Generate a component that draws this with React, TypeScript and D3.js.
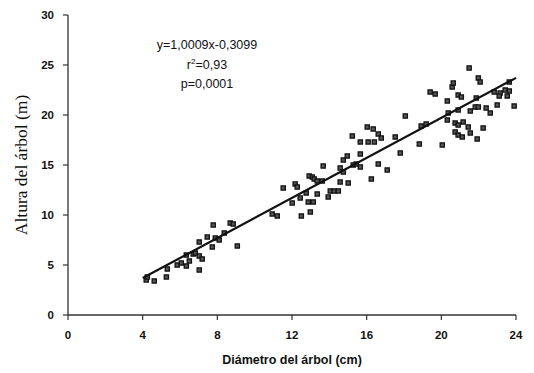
import React from "react";
import * as d3 from "d3";

// diameter (cm) of each tree
const diametro = [
  4.19, 4.25, 4.62, 5.27, 5.32, 5.85, 6.07, 6.34, 6.5, 6.34, 6.71, 6.82, 7.03,
  7.19, 7.03, 7.03, 7.46, 7.73, 7.78, 7.89, 8.1, 8.37, 8.69, 8.85, 9.07, 10.94,
  11.21, 11.53, 12.17, 12.28, 12.5, 12.01, 12.44, 12.76, 12.87, 13.14, 12.98,
  13.35, 12.92, 13.09, 13.19, 13.35, 13.62, 13.67, 14.05, 14.26, 14.48, 13.94,
  14.58, 14.75, 14.75, 14.96, 15.28, 15.44, 15.66, 14.58, 15.01, 15.23, 15.66,
  16.08, 16.41, 15.66, 16.03, 16.35, 16.62, 16.78, 16.62, 17.1, 16.25, 17.53,
  17.8, 18.07, 18.82, 18.92, 19.19, 19.4, 19.67, 20.05, 20.32, 20.37, 20.32,
  20.58, 20.64, 20.9, 21.07, 20.9, 20.74, 20.9, 21.17, 21.44, 20.74, 20.9,
  21.12, 21.55, 21.92, 22.24, 21.49, 21.98, 22.08, 21.87, 21.55, 21.82, 21.98,
  22.4, 22.62, 22.99, 22.83, 23.15, 23.42, 23.64, 23.1, 23.53, 23.64, 23.9,
];

// height (m) of each tree
const altura = [
  3.5, 3.8, 3.4, 3.8, 4.6, 5.0, 5.2, 4.9, 5.4, 6.0, 6.1, 6.2, 5.9, 5.6, 4.5,
  7.3, 7.8, 6.8, 9.0, 7.7, 7.5, 8.2, 9.2, 9.1, 6.9, 10.1, 9.9, 12.7, 13.1, 12.8,
  9.9, 11.2, 11.7, 12.2, 11.3, 11.3, 10.3, 12.1, 13.9, 13.8, 13.6, 13.4, 13.4,
  14.9, 12.4, 12.4, 12.4, 11.8, 14.7, 14.3, 15.5, 15.9, 15.0, 15.1, 14.8, 13.3,
  13.2, 17.9, 17.3, 17.3, 17.3, 16.1, 18.8, 18.6, 18.1, 17.7, 15.1, 14.5, 13.6,
  17.8, 16.2, 19.9, 17.1, 18.9, 19.1, 22.3, 22.1, 17.0, 21.4, 20.2, 19.5, 22.8,
  23.2, 22.0, 21.8, 20.5, 19.2, 19.0, 19.3, 18.8, 18.3, 18.0, 17.8, 18.2, 17.6,
  18.7, 24.7, 23.7, 23.3, 21.7, 20.4, 20.8, 20.8, 20.7, 20.2, 21.0, 22.3, 22.2,
  22.5, 22.4, 21.9, 21.9, 23.3, 20.9,
];

const xTicks = [0, 4, 8, 12, 16, 20, 24];
const yTicks = [0, 5, 10, 15, 20, 25, 30];
const pendiente = 1.0009;
const intercepto = -0.3099;
const ecuacion = ["y=1,0009x-0,3099", "r", "p=0,0001"];

const W = 534;
const H = 373;
const margin = { top: 15, right: 18, bottom: 58, left: 68 };
const sans = "'Liberation Sans', Arial, Helvetica, sans-serif";

export default function App() {
  const x = d3
    .scaleLinear()
    .domain([0, 24])
    .range([margin.left, W - margin.right]);
  const y = d3
    .scaleLinear()
    .domain([0, 30])
    .range([H - margin.bottom, margin.top]);

  const puntos = diametro.map((d, i) => ({ d, h: altura[i] }));
  const linea = d3.line<number>()
    .x((v) => x(v))
    .y((v) => y(pendiente * v + intercepto));

  const axisColor = "#333";
  const textColor = "#111";
  const s = 4.2;

  return (
    <svg
      width={W}
      height={H}
      style={{ position: "absolute", left: 0, top: 0, background: "#fff" }}
    >
      {/* y axis */}
      <line
        x1={x(0)}
        x2={x(0)}
        y1={y(30)}
        y2={y(0)}
        stroke={axisColor}
        strokeWidth={1.3}
      />
      {yTicks.map((t) => (
        <g key={"y" + t}>
          <line
            x1={x(0) - 5}
            x2={x(0)}
            y1={y(t)}
            y2={y(t)}
            stroke={axisColor}
            strokeWidth={1.2}
          />
          <text
            x={x(0) - 14}
            y={y(t)}
            dy="0.36em"
            textAnchor="end"
            fontFamily={sans}
            fontWeight="bold"
            fontSize={11.5}
            fill={textColor}
          >
            {t}
          </text>
        </g>
      ))}

      {/* x axis */}
      <line
        x1={x(0)}
        x2={x(24)}
        y1={y(0)}
        y2={y(0)}
        stroke={axisColor}
        strokeWidth={1.3}
      />
      {xTicks.map((t) => (
        <g key={"x" + t}>
          <line
            x1={x(t)}
            x2={x(t)}
            y1={y(0)}
            y2={y(0) + 5}
            stroke={axisColor}
            strokeWidth={1.2}
          />
          <text
            x={x(t)}
            y={y(0) + 24}
            textAnchor="middle"
            fontFamily={sans}
            fontWeight="bold"
            fontSize={11.5}
            fill={textColor}
          >
            {t}
          </text>
        </g>
      ))}

      {/* axis titles */}
      <text
        x={(x(0) + x(24)) / 2}
        y={H - 9}
        textAnchor="middle"
        fontFamily={sans}
        fontWeight="bold"
        fontSize={12.5}
        fill={textColor}
      >
        Diámetro del árbol (cm)
      </text>
      <text
        transform={`translate(27,${(y(0) + y(30)) / 2}) rotate(-90)`}
        textAnchor="middle"
        fontFamily="'Liberation Serif', 'Times New Roman', serif"
        fontSize={17.5}
        fill={textColor}
      >
        Altura del árbol (m)
      </text>

      {/* points */}
      {puntos.map((p, i) => (
        <rect
          key={i}
          x={x(p.d) - s / 2}
          y={y(p.h) - s / 2}
          width={s}
          height={s}
          fill="#555"
          stroke="#111"
          strokeWidth={1.3}
        />
      ))}

      {/* regression line */}
      <path
        d={linea([4, 24]) ?? ""}
        fill="none"
        stroke="#111"
        strokeWidth={2.2}
      />

      {/* equation */}
      <g fontFamily={sans} fontSize={12.5} fill={textColor} textAnchor="middle">
        <text x={207} y={49}>
          {ecuacion[0]}
        </text>
        <text x={207} y={69}>
          r<tspan dy={-5} fontSize={8}>2</tspan>
          <tspan dy={5}>=0,93</tspan>
        </text>
        <text x={207} y={88}>
          {ecuacion[2]}
        </text>
      </g>
    </svg>
  );
}
